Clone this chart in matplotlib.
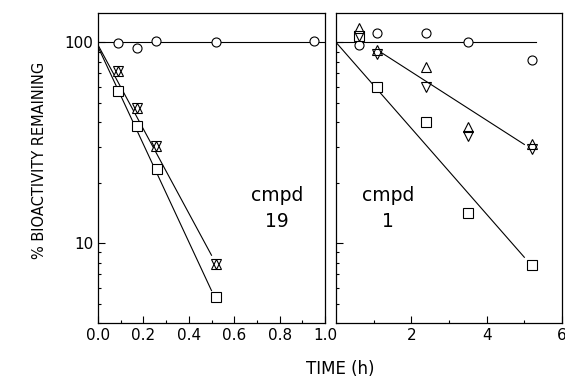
import matplotlib
matplotlib.use("Agg")
import matplotlib.pyplot as plt
import numpy as np
from matplotlib.ticker import LogLocator, NullFormatter, FixedLocator, FixedFormatter, MultipleLocator

# ---- data: compound 19 (left panel) ----
c19_time_circ = [0.09, 0.17, 0.255, 0.52, 0.95]
c19_circ = [99, 94, 101, 100, 101]
c19_time_tri = [0.088, 0.172, 0.255, 0.52]
c19_tri = [72, 47, 30.5, 7.9]
c19_time_sq = [0.088, 0.17, 0.26, 0.52]
c19_sq = [57, 38.5, 23.3, 5.4]
c19_fit_x = [0.0, 0.5]
c19_fit_tri = [97, 8.7]
c19_fit_sq = [95, 5.8]
c19_fit_circ_x = [0.0, 1.0]
c19_fit_circ = [100, 100]

# ---- data: compound 1 (right panel) ----
c1_time_circ = [0.6, 1.1, 2.4, 3.5, 5.2]
c1_circ = [97, 111, 111, 100, 82]
c1_time_up = [0.6, 1.1, 2.4, 3.5, 5.2]
c1_up = [118, 92, 75, 38, 31]
c1_time_dn = [0.6, 1.1, 2.4, 3.5, 5.2]
c1_dn = [108, 87, 60, 34, 29.5]
c1_time_sq = [0.6, 1.1, 2.4, 3.5, 5.2]
c1_sq = [108, 60, 40, 14.1, 7.8]
c1_fit_circ_x = [0.0, 5.3]
c1_fit_circ = [100, 100]
c1_fit_tri_x = [1.2, 5.0]
c1_fit_tri = [89, 31]
c1_fit_sq_x = [0.0, 5.0]
c1_fit_sq = [100, 8.5]

left_xticks = [0.0, 0.2, 0.4, 0.6, 0.8, 1.0]
left_xticklabels = ["0.0", "0.2", "0.4", "0.6", "0.8", "1.0"]
right_xticks = [2, 4, 6]
right_xticklabels = ["2", "4", "6"]
yticks = [10, 100]
yticklabels = ["10", "100"]

W, H = 565, 383
fig = plt.figure(figsize=(W / 100, H / 100), dpi=100)
plt.rcParams['font.family'] = ['DejaVu Sans']

def frac(x0, y0, x1, y1):
    return [x0 / W, 1 - y1 / H, (x1 - x0) / W, (y1 - y0) / H]

axL = fig.add_axes(frac(98, 13, 325, 323))
axR = fig.add_axes(frac(336, 13, 562, 323))

ms = 6.5
mk = dict(mfc='white', mec='black', mew=0.8, ls='none', ms=ms, zorder=3)
lw = 0.8

for ax in (axL, axR):
    ax.set_yscale('log')
    ax.set_ylim(4.0, 140)
    for s in ax.spines.values():
        s.set_linewidth(0.9)
    ax.tick_params(which='both', direction='in', width=0.8, labelsize=11)
    ax.tick_params(which='major', length=5)
    ax.tick_params(which='minor', length=2.5)
    ax.yaxis.set_minor_locator(LogLocator(base=10, subs=np.arange(2, 10)))
    ax.yaxis.set_minor_formatter(NullFormatter())

# left panel
axL.plot(c19_fit_circ_x, c19_fit_circ, color='black', lw=lw, zorder=1)
axL.plot(c19_fit_x, c19_fit_tri, color='black', lw=lw, zorder=1)
axL.plot(c19_fit_x, c19_fit_sq, color='black', lw=lw, zorder=1)
axL.plot(c19_time_circ, c19_circ, marker='o', **mk)
axL.plot(c19_time_tri, c19_tri, marker='^', **mk)
axL.plot(c19_time_tri, c19_tri, marker='v', mfc='none', mec='black', mew=0.8, ls='none', ms=ms, zorder=4)
axL.plot(c19_time_sq, c19_sq, marker='s', **mk)
axL.set_xlim(0, 1.0)
axL.xaxis.set_major_locator(FixedLocator(left_xticks))
axL.xaxis.set_major_formatter(FixedFormatter(left_xticklabels))
axL.xaxis.set_minor_locator(MultipleLocator(0.1))
axL.yaxis.set_major_locator(FixedLocator(yticks))
axL.yaxis.set_major_formatter(FixedFormatter(yticklabels))
axL.text(0.79, 0.37, "cmpd\n19", transform=axL.transAxes, ha='center', va='center',
         fontsize=13.5, linespacing=1.5)

# right panel
axR.plot(c1_fit_circ_x, c1_fit_circ, color='black', lw=lw, zorder=1)
axR.plot(c1_fit_tri_x, c1_fit_tri, color='black', lw=lw, zorder=1)
axR.plot(c1_fit_sq_x, c1_fit_sq, color='black', lw=lw, zorder=1)
axR.plot(c1_time_circ, c1_circ, marker='o', **mk)
axR.plot(c1_time_sq, c1_sq, marker='s', **mk)
axR.plot(c1_time_up, c1_up, marker='^', **mk)
axR.plot(c1_time_dn, c1_dn, marker='v', mfc='none', mec='black', mew=0.8, ls='none', ms=ms, zorder=4)
axR.set_xlim(0, 6)
axR.xaxis.set_major_locator(FixedLocator(right_xticks))
axR.xaxis.set_major_formatter(FixedFormatter(right_xticklabels))
axR.xaxis.set_minor_locator(FixedLocator([1, 3, 5]))
axR.yaxis.set_major_formatter(NullFormatter())
axR.yaxis.set_major_locator(FixedLocator(yticks))
axR.text(0.23, 0.37, "cmpd\n1", transform=axR.transAxes, ha='center', va='center',
         fontsize=13.5, linespacing=1.5)

fig.text(340 / W, 1 - 369 / H, "TIME (h)", ha='center', va='center', fontsize=12)
fig.text(40 / W, 1 - 160 / H, "% BIOACTIVITY REMAINING", ha='center', va='center',
         rotation=90, fontsize=10.5)

fig.savefig("out.png", dpi=100)
